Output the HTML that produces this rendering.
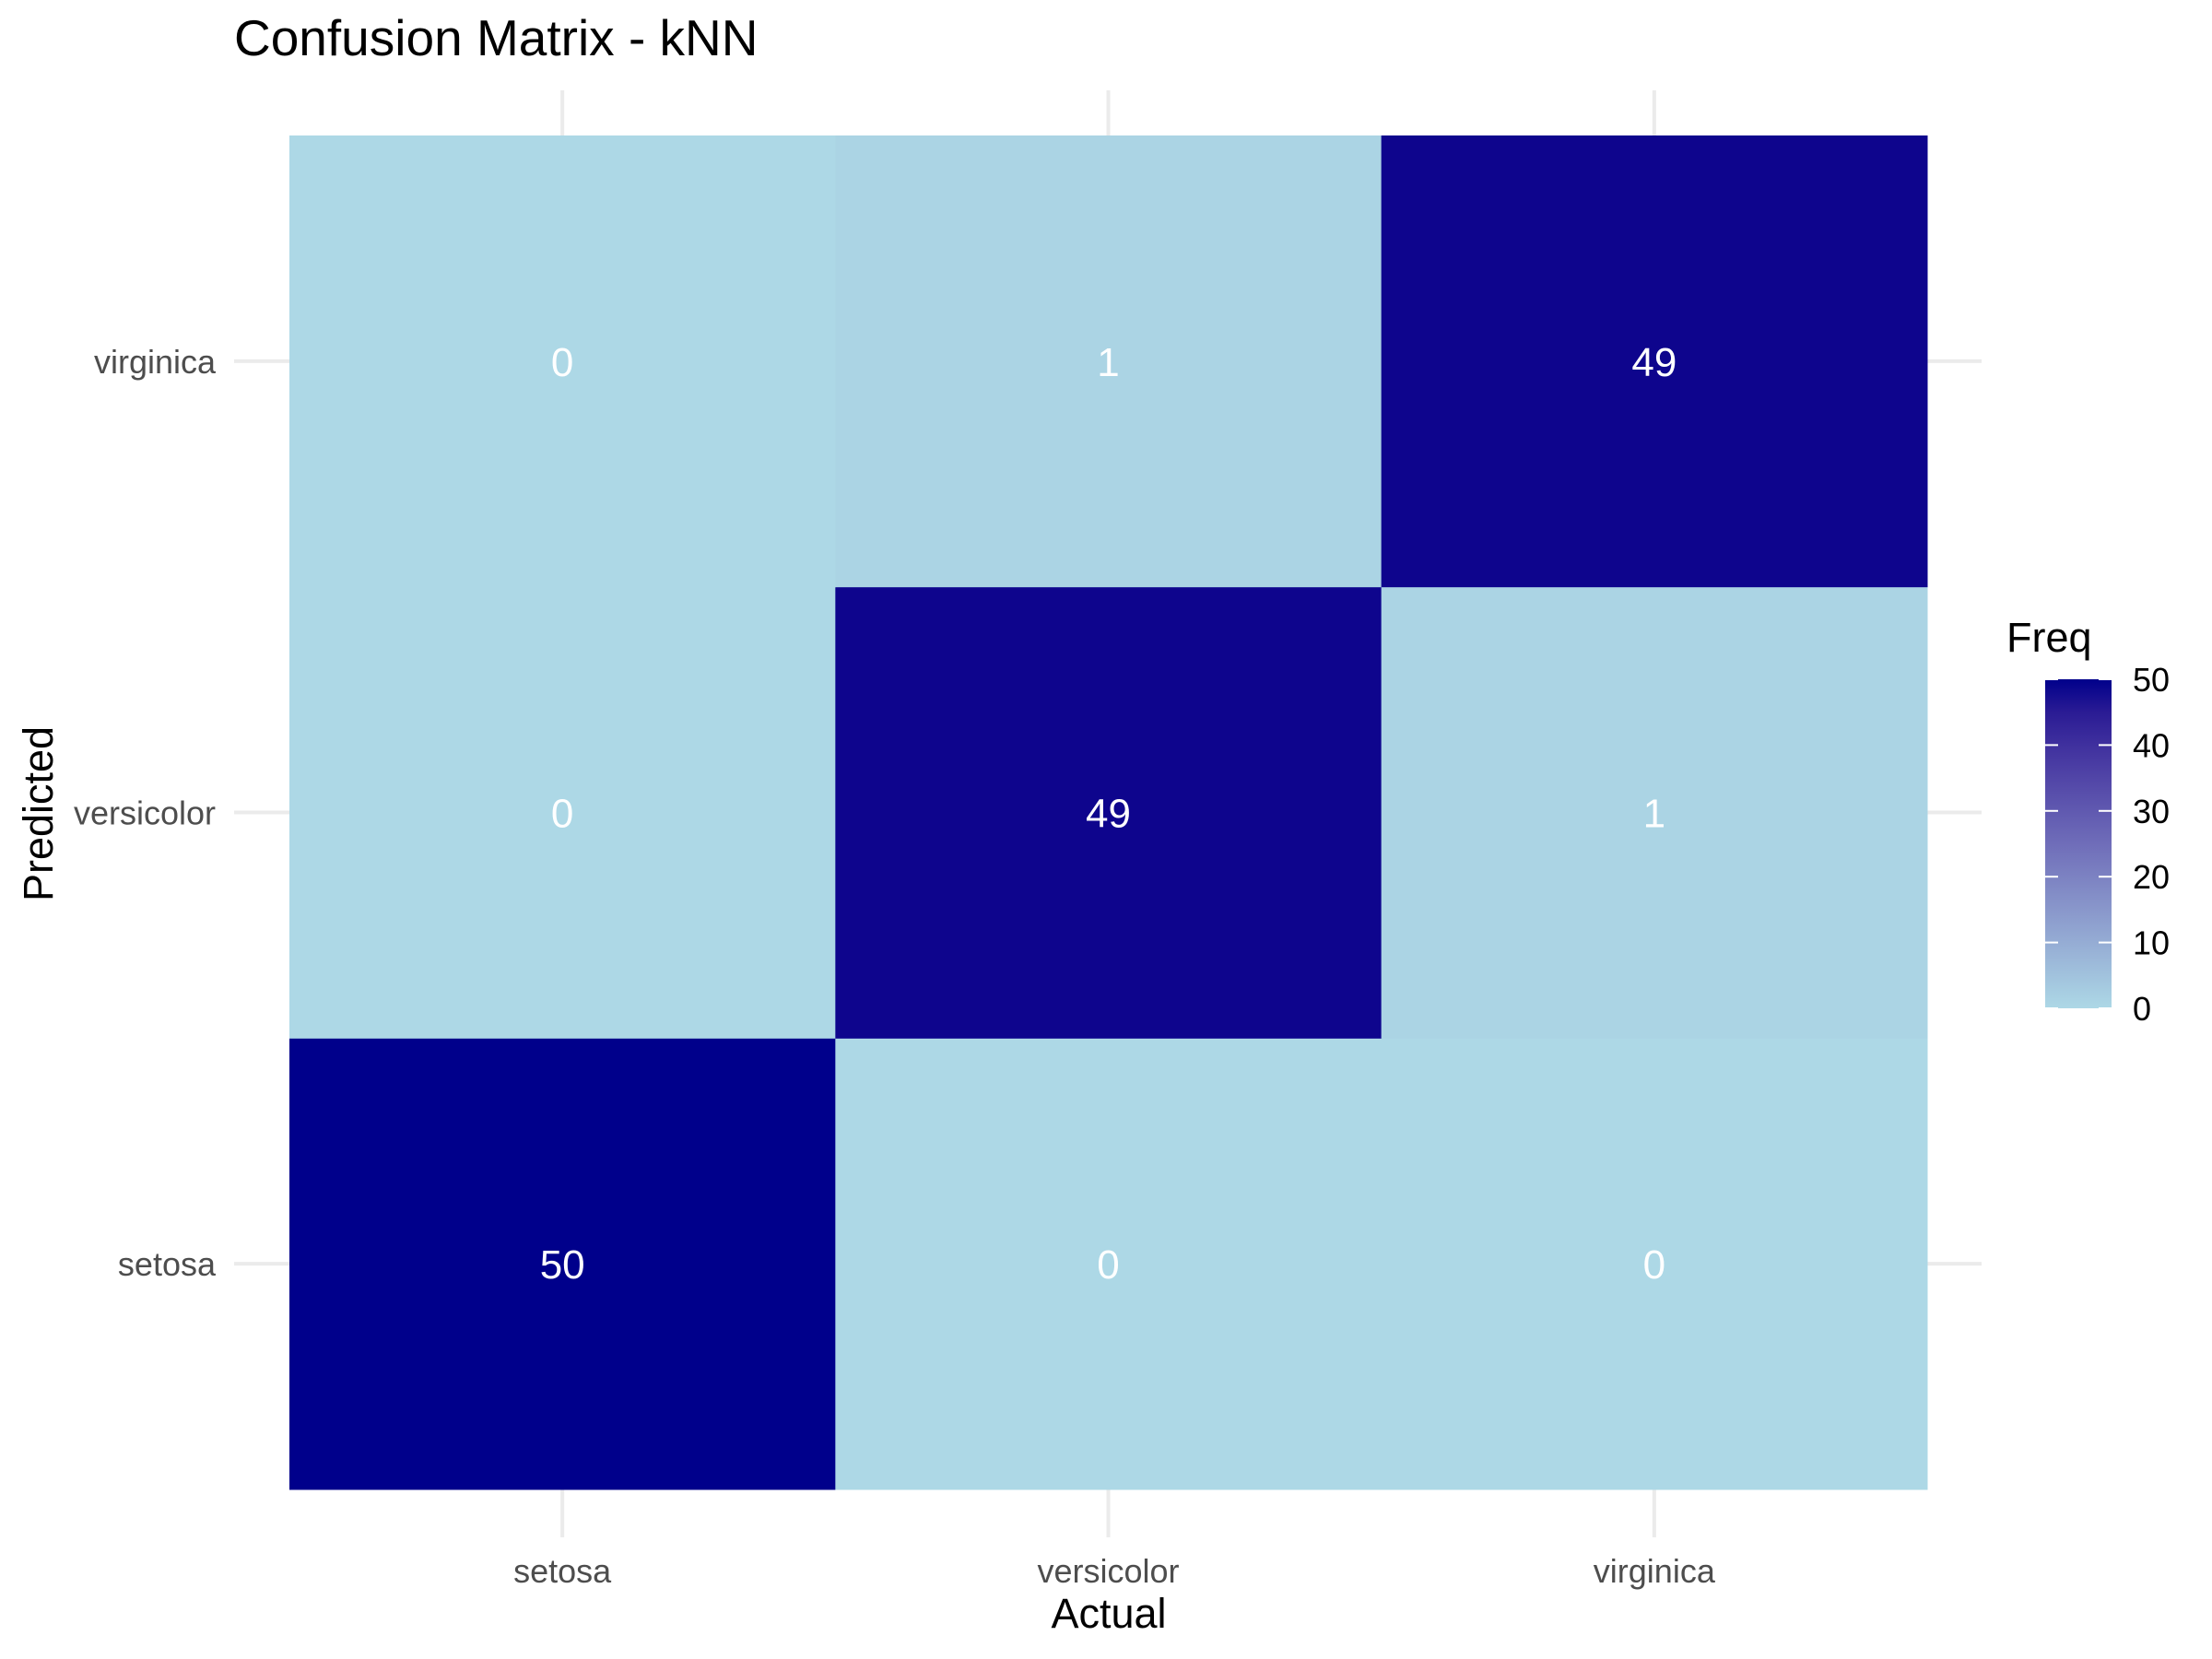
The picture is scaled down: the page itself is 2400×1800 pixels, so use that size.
<!DOCTYPE html>
<html><head><meta charset="utf-8"><style>
html,body{margin:0;padding:0;background:#fff;}
svg{display:block;font-family:"Liberation Sans",Arial,sans-serif;}
</style></head><body>
<svg id="chart" width="2400" height="1800" viewBox="0 0 2400 1800">
<rect width="2400" height="1800" fill="#fff"/>
<text x="254" y="60" font-size="55" fill="#000">Confusion Matrix - kNN</text>
<g id="grid"></g>
<g id="cells"></g>
<g id="labels"></g>
<g id="axes"></g>
<text x="1203" y="1766" font-size="45" text-anchor="middle" fill="#000">Actual</text>
<text transform="translate(57,883) rotate(-90)" font-size="45" text-anchor="middle" fill="#000">Predicted</text>
<g id="legend">
<text x="2177" y="707" font-size="45" fill="#000">Freq</text>
<defs><linearGradient id="lg" x1="0" y1="1" x2="0" y2="0"></linearGradient></defs>
<rect x="2219" y="737" width="72" height="357" fill="url(#lg)"/>
</g>
</svg>
<script>
const actualCats = ["setosa","versicolor","virginica"];
const predictedCats = ["setosa","versicolor","virginica"];
// freq[predictedIndex][actualIndex]
const freqSetosa = [50, 0, 0];
const freqVersicolor = [0, 49, 1];
const freqVirginica = [0, 1, 49];
const legendTicks = [0,10,20,30,40,50];

const rows = [freqSetosa, freqVersicolor, freqVirginica];
const NS = "http://www.w3.org/2000/svg";
const px0=314, px1=2091, py0=147, py1=1616;
const cw=(px1-px0)/actualCats.length, ch=(py1-py0)/predictedCats.length;
const xC = i => px0 + (i+0.5)*cw;
const yC = j => py1 - (j+0.5)*ch;
const vmin=0, vmax=50;
function toLab(r,g,b){
  const f=c=>{c/=255;return c<=0.04045?c/12.92:Math.pow((c+0.055)/1.055,2.4);};
  r=f(r);g=f(g);b=f(b);
  let X=(r*0.4124+g*0.3576+b*0.1805)/0.95047,Y=r*0.2126+g*0.7152+b*0.0722,Z=(r*0.0193+g*0.1192+b*0.9505)/1.08883;
  const h=t=>t>0.008856?Math.cbrt(t):7.787*t+16/116;
  X=h(X);Y=h(Y);Z=h(Z);return [116*Y-16,500*(X-Y),200*(Y-Z)];
}
function fromLab(L,a,b){
  let Y=(L+16)/116,X=a/500+Y,Z=Y-b/200;
  const h=t=>t*t*t>0.008856?t*t*t:(t-16/116)/7.787;
  X=h(X)*0.95047;Y=h(Y);Z=h(Z)*1.08883;
  let r=X*3.2406+Y*-1.5372+Z*-0.4986,g=X*-0.9689+Y*1.8758+Z*0.0415,bb=X*0.0557+Y*-0.2040+Z*1.0570;
  const f=c=>{c=c<=0.0031308?12.92*c:1.055*Math.pow(c,1/2.4)-0.055;return Math.max(0,Math.min(255,Math.round(c*255)));};
  return "rgb("+f(r)+","+f(g)+","+f(bb)+")";
}
const lo=toLab(173,216,230), hi=toLab(0,0,139);
function col(v){const t=(v-vmin)/(vmax-vmin);return fromLab(lo[0]+(hi[0]-lo[0])*t,lo[1]+(hi[1]-lo[1])*t,lo[2]+(hi[2]-lo[2])*t);}
function mk(tag,attrs,parent){const e=document.createElementNS(NS,tag);for(const k in attrs)e.setAttribute(k,attrs[k]);parent.appendChild(e);return e;}
const grid=document.getElementById("grid"),cells=document.getElementById("cells"),labels=document.getElementById("labels"),axes=document.getElementById("axes");
actualCats.forEach((c,i)=>{
  const l=mk("line",{x1:xC(i),x2:xC(i),y1:98,y2:1668,stroke:"#ebebeb","stroke-width":4},grid);
  
  
  const t=mk("text",{x:xC(i),y:1717,"font-size":36,"text-anchor":"middle",fill:"#4d4d4d"},axes);
  t.textContent=c;
  
  
});
predictedCats.forEach((c,j)=>{
  const l=mk("line",{x1:254,x2:2150,y1:yC(j),y2:yC(j),stroke:"#ebebeb","stroke-width":4},grid);
  
  
  const t=mk("text",{x:234,y:yC(j)+13,"font-size":36,"text-anchor":"end",fill:"#4d4d4d"},axes);
  t.textContent=c;
  
  
});
rows.forEach((row,j)=>{
  row.forEach((v,i)=>{
    const r=mk("rect",{x:px0+i*cw,y:py1-(j+1)*ch,width:cw+0.5,height:ch+0.5,fill:col(v)},cells);
    
    
    const t=mk("text",{x:xC(i),y:yC(j)+16,"font-size":44,"text-anchor":"middle",fill:"#fff"},labels);
    t.textContent=v;
    
    
  });
});
const lg=document.getElementById("lg");
for(let k=0;k<=10;k++){mk("stop",{offset:k/10,"stop-color":col(vmin+(vmax-vmin)*k/10)},lg);}
const legend=document.getElementById("legend");
const ly=v=>1094-(v-vmin)/(vmax-vmin)*357;
legendTicks.forEach(v=>{
  const a=mk("line",{x1:2219,x2:2233,y1:ly(v),y2:ly(v),stroke:"#fff","stroke-width":2},legend);
  
  
  const b=mk("line",{x1:2277,x2:2291,y1:ly(v),y2:ly(v),stroke:"#fff","stroke-width":2},legend);
  
  
  const t=mk("text",{x:2314,y:ly(v)+13,"font-size":36,fill:"#000"},legend);
  t.textContent=v;
  
  
});
</script>
</body></html>
